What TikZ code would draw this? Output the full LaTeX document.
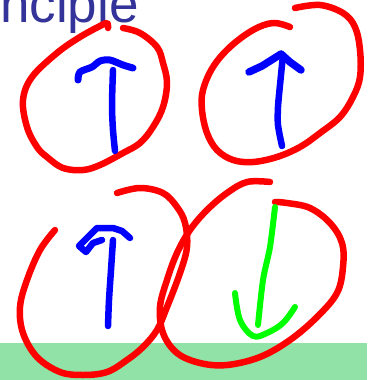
\documentclass[tikz,border=0pt]{standalone}
\usepackage{fontspec}
\setmainfont{Liberation Sans}
\definecolor{titleblue}{RGB}{51,51,153}
\definecolor{bandgreen}{RGB}{144,226,166}
\definecolor{ringred}{RGB}{255,0,0}
\definecolor{spinblue}{RGB}{0,0,255}
\definecolor{spingreen}{RGB}{0,255,0}
\tikzset{
  ring/.style={draw=ringred,line width=6.5pt,line cap=round,line join=round},
  upspin/.style={draw=spinblue,line width=6.5pt,line cap=round,line join=round},
  downspin/.style={draw=spingreen,line width=6pt,line cap=round,line join=round},
}
\begin{document}
\begin{tikzpicture}[x=1pt,y=-1pt]
\useasboundingbox (0,0) rectangle (367,380);
\clip (0,0) rectangle (367,380);
\fill[bandgreen] (0,343) rectangle (367,380);
\node[anchor=base west,inner sep=0,text=titleblue,font=\fontsize{53}{53}\selectfont] (title) at (0,22) {nciple};
% circle 1
\draw[ring] plot[smooth,tension=0.6] coordinates {(108,28) (107,23) (100,26) (80,37) (57,53) (32,77) (23,100) (27,127) (37,147) (47,157) (63,168) (83,170) (100,165) (123,153) (140,143) (153,127) (163,107) (167,83) (163,63) (157,47) (140,33) (123,28)};
% arrow 1
\draw[upspin] plot[smooth,tension=0.5] coordinates {(115,151) (113,130) (112,105) (113,70)};
\draw[upspin,line width=7pt] plot[smooth,tension=0.5] coordinates {(78,80) (80,72) (92,67) (100,61) (110,60) (123,65) (133,68)};
% circle 2
\draw[ring] plot[smooth,tension=0.6] coordinates {(295,8) (320,5) (343,13) (355,27) (360,50) (360,77) (353,97) (340,117) (320,133) (300,147) (277,157) (253,162) (233,160) (217,150) (207,133) (202,110) (203,90) (213,67) (230,47) (253,30) (273,23) (290,27)};
% arrow 2
\draw[upspin] plot[smooth,tension=0.5] coordinates {(282,146) (278,125) (278,107) (280,85) (283,55)};
\draw[upspin,line width=7.5pt] (249,72) -- (262,66) -- (281,54) -- (290,62) -- (301,70);
% circle 3
\draw[ring] plot[smooth,tension=0.6] coordinates {(55,230) (40,250) (27,280) (20,307) (23,333) (37,357) (60,372) (83,375) (107,372) (127,360) (143,347) (157,330) (167,307) (180,273) (187,247) (185,223) (177,207) (163,193) (140,188) (117,193)};
% arrow 3
\draw[upspin] plot[smooth,tension=0.5] coordinates {(108,326) (109,300) (111,270) (113,240)};
\draw[upspin] (102,240) -- (93,243) -- (86,252) -- (79,246) -- (97,228) -- (113,228) -- (122,231) -- (130,238);
% circle 4
\draw[ring] plot[smooth,tension=0.6] coordinates {(270,182) (247,182) (227,193) (207,210) (190,230) (177,253) (167,280) (160,307) (163,333) (177,353) (200,363) (227,365) (260,357) (290,340) (317,317) (337,293) (343,267) (342,243) (330,223) (310,208) (287,203) (275,202)};
% green arrow
\draw[downspin] plot[smooth,tension=0.5] coordinates {(275,207) (270,247) (263,280) (258,325)};
\draw[downspin] plot[smooth,tension=0.6] coordinates {(235,293) (240,320) (253,336) (267,333) (283,323) (295,307)};
\end{tikzpicture}
\end{document}
